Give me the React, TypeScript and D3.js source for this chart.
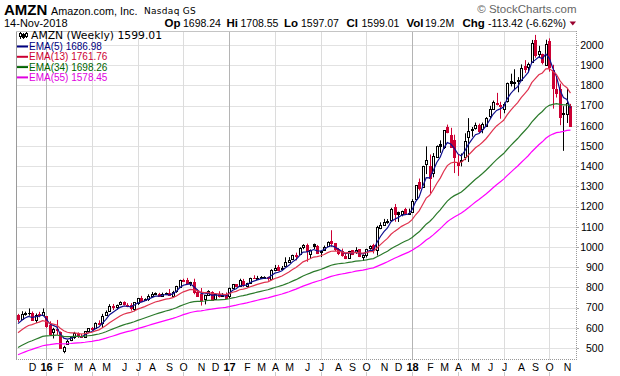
import React from 'react';
import * as d3 from 'd3';

// ---------- DATA (weekly AMZN, first bar = week of 2015-11-09) ----------
const FIRST_WEEK = '2015-11-09';

const opens = [
  663, 645, 671, 675, 673, 641, 668, 665,
  656, 612, 577, 594, 578, 486, 519, 540, 554, 573, 561, 556, 584, 597, 599, 624, 624,
  664, 683, 710, 704, 717, 729, 712, 712, 692, 723, 748, 737, 742, 759, 768, 769, 757, 769,
  773, 755, 780, 800, 836, 835, 825, 826, 775, 766, 745, 762, 778, 743, 766, 758, 764,
  757, 798, 815, 807, 833, 809, 822, 848, 842, 848, 851, 851, 843, 888, 899, 889, 908,
  927, 939, 959, 964, 998, 1012, 967, 1017, 1007, 973, 986, 1004, 1030, 1019, 990, 978, 957, 946,
  984, 974, 990, 951, 960, 993, 1009, 986, 1096, 1110, 1123, 1135, 1197, 1173, 1164, 1187, 1168,
  1172, 1236, 1323, 1297, 1409, 1402, 1364, 1446, 1509, 1494, 1592, 1554, 1530,
  1417, 1425, 1445, 1546, 1582, 1589, 1604, 1585, 1600, 1648, 1681, 1706, 1703,
  1682, 1724, 1821, 1812, 1827, 1825, 1898, 1890, 1915, 2026, 1957, 1954, 1903,
  2022, 1874, 1783, 1784, 1660, 1657, 1698.24,
];

const highs = [
  669, 682, 680, 696, 681, 671, 679, 696,
  658, 632, 600, 639, 582, 511, 540, 559, 580, 577, 570, 583, 599, 604, 627, 637, 669,
  686, 717, 718, 715, 731, 731, 722, 722, 726, 748, 758, 746, 766, 777, 775, 773, 774, 775,
  792, 783, 808, 838, 843, 847, 828, 843, 790, 797, 761, 786, 781, 772, 781, 772, 775,
  799, 817, 816, 843, 842, 823, 848, 860, 857, 856, 855, 853, 890, 911, 911, 906, 949,
  950, 962, 972, 999, 1014, 1017, 988, 1017, 1010, 979, 1007, 1028, 1083, 1019, 995, 992, 969, 981,
  985, 999, 990, 963, 991, 1008, 1016, 1105, 1122, 1139, 1138, 1194, 1213, 1175, 1180, 1194, 1190,
  1237, 1305, 1339, 1402, 1498, 1458, 1465, 1503, 1528, 1578, 1606, 1590, 1556,
  1460, 1463, 1563, 1638, 1594, 1616, 1611, 1616, 1643, 1699, 1725, 1763, 1719,
  1716, 1814, 1858, 1880, 1841, 1904, 1925, 1913, 2025, 2050, 1996, 1957, 2026,
  2033, 1902, 1845, 1809, 1697, 1784, 1708.55,
];

const lows = [
  628, 640, 660, 660, 640, 624, 652, 663,
  600, 565, 547, 565, 499, 474, 515, 534, 545, 550, 550, 553, 577, 585, 593, 616, 599,
  660, 680, 688, 690, 712, 710, 702, 685, 682, 713, 734, 734, 733, 754, 764, 755, 754, 764,
  760, 752, 773, 799, 829, 818, 806, 766, 754, 710, 716, 761, 735, 740, 750, 755, 748,
  747, 796, 803, 806, 803, 800, 819, 842, 840, 842, 847, 833, 838, 880, 880, 887, 903,
  926, 935, 934, 961, 989, 927, 941, 990, 965, 950, 981, 1002, 1001, 980, 960, 952, 940, 941,
  960, 966, 950, 931, 948, 987, 968, 958, 1088, 1108, 1115, 1132, 1125, 1124, 1152, 1160, 1164,
  1170, 1229, 1280, 1293, 1361, 1265, 1345, 1446, 1466, 1485, 1563, 1495, 1366,
  1352, 1399, 1430, 1421, 1546, 1581, 1565, 1563, 1596, 1636, 1679, 1701, 1635,
  1662, 1715, 1795, 1776, 1766, 1821, 1862, 1866, 1915, 1937, 1937, 1904, 1902,
  1868, 1685, 1740, 1603, 1476, 1614, 1597.07,
];

const closes = [
  642, 668, 673, 673, 640, 664, 663, 676,
  607, 570, 596, 587, 502, 507, 535, 555, 575, 558, 552, 583, 598, 594, 625, 620, 660,
  680, 710, 703, 712, 726, 718, 706, 699, 726, 746, 735, 745, 758, 766, 772, 757, 769, 772,
  760, 778, 805, 837, 834, 822, 822, 776, 755, 739, 760, 780, 740, 768, 758, 760, 750,
  796, 817, 808, 836, 810, 821, 847, 845, 849, 852, 852, 845, 886, 894, 884, 898, 925,
  934, 961, 960, 996, 1011, 978, 987, 1003, 968, 979, 1002, 1026, 1020, 988, 968, 958, 945, 978,
  966, 987, 955, 961, 990, 1003, 983, 1101, 1111, 1125, 1130, 1186, 1162, 1162, 1179, 1168, 1169,
  1229, 1305, 1294, 1402, 1430, 1340, 1449, 1500, 1500, 1578, 1571, 1495, 1447,
  1405, 1431, 1527, 1572, 1581, 1603, 1574, 1610, 1641, 1684, 1716, 1715, 1699,
  1710, 1813, 1813, 1817, 1823, 1886, 1882, 1905, 2012, 1952, 1970, 1915, 2003,
  1890, 1788, 1764, 1642, 1665, 1712, 1599.01,
];

// EMA overlays: period, value before the first bar, legend text
const emaPeriods = [5, 13, 34, 55];
const emaStart = [610, 565, 494, 460];
const emaLegend = ['EMA(5) 1686.98', 'EMA(13) 1761.76', 'EMA(34) 1698.26', 'EMA(55) 1578.45'];
const emaLineColors = ['#10108f', '#e0334f', '#2b7a2b', '#f0f'];
const emaTextColors = ['#000080', '#cc0033', '#006400', '#e000e0'];

const yTicks = [500, 600, 700, 800, 900, 1000, 1100, 1200, 1300, 1400, 1500, 1600, 1700, 1800, 1900, 2000];
const monthLetters = ['J', 'F', 'M', 'A', 'M', 'J', 'J', 'A', 'S', 'O', 'N', 'D'];

const quoteParts = [
  { k: 'Op', v: '1698.24', kx: 164.5, vx: 183 },
  { k: 'Hi', v: '1708.55', kx: 226.5, vx: 240.5 },
  { k: 'Lo', v: '1597.07', kx: 284, vx: 301 },
  { k: 'Cl', v: '1599.01', kx: 346.5, vx: 361.5 },
  { k: 'Vol', v: '19.2M', kx: 406.5, vx: 425 },
  { k: 'Chg', v: '-113.42 (-6.62%)', kx: 462.5, vx: 488 },
];

// ---------- LAYOUT ----------
const W = 620, H = 376;
const L = 16, R = 577, T = 31, B = 360;
const RED = '#cc0033';
const SANS = 'Liberation Sans, Arial, Helvetica, sans-serif';
const VERD = 'DejaVu Sans, Verdana, sans-serif';

function ema(vals: number[], period: number, prior: number) {
  const k = 2 / (period + 1);
  let e = prior;
  return vals.map((v) => (e = e + k * (v - e)));
}

export default function App() {
  const start = new Date(FIRST_WEEK + 'T00:00:00Z');
  const dates = closes.map((_, i) => d3.utcDay.offset(start, 7 * i));

  const x = d3.scaleUtc()
    .domain([new Date(Date.UTC(2015, 10, 5)), new Date(Date.UTC(2018, 10, 25))])
    .range([L, R]);
  const y = d3.scaleLinear().domain([500, 2000]).range([348, 45]);

  const firstOfMonth: { i: number; m: number; yr: number }[] = [];
  for (let i = 1; i < dates.length; i++) {
    if (dates[i].getUTCMonth() !== dates[i - 1].getUTCMonth()) {
      firstOfMonth.push({ i, m: dates[i].getUTCMonth(), yr: dates[i].getUTCFullYear() });
    }
  }
  const px = (i: number) => Math.round(x(dates[i])) + 0.5;

  const emas = emaPeriods.map((p, k) => ema(closes, p, emaStart[k]));
  const line = d3.line<number>().x((_, i) => x(dates[i])).y((v) => y(v));

  return (
    <svg width={W} height={H} style={{ position: 'absolute', left: 0, top: 0, background: '#fff' }}
      fontFamily={SANS}>
      <rect x={0} y={0} width={W} height={H} fill="#fff" />

      {/* horizontal grid */}
      {yTicks.map((t) => (
        <line key={'h' + t} x1={L} x2={R} y1={Math.round(y(t)) + 0.5} y2={Math.round(y(t)) + 0.5}
          stroke="#e2e2e2" strokeWidth={1} />
      ))}
      {/* vertical quarter grid */}
      {firstOfMonth.filter((f) => f.m % 3 === 0).map((f) => (
        <g key={'v' + f.i}>
          <line x1={px(f.i)} x2={px(f.i)} y1={T} y2={B} stroke={f.m === 0 ? '#b4b4b4' : '#dcdcdc'} />
          <line x1={px(f.i)} x2={px(f.i)} y1={372} y2={376} stroke="#c8c8c8" />
        </g>
      ))}

      {/* frame */}
      <line x1={L + 0.5} x2={L + 0.5} y1={T} y2={B} stroke="#9a9a9a" />
      <line x1={L} x2={R} y1={T + 0.5} y2={T + 0.5} stroke="#c4c4c4" />
      <line x1={R - 0.5} x2={R - 0.5} y1={T} y2={B} stroke="#999" strokeDasharray="1,1" />
      <line x1={L} x2={R} y1={B - 0.5} y2={B - 0.5} stroke="#999" strokeDasharray="1,1" />
      {yTicks.map((t) => (
        <line key={'rt' + t} x1={R} x2={R + 2} y1={Math.round(y(t)) + 0.5} y2={Math.round(y(t)) + 0.5} stroke="#aaa" />
      ))}

      {/* candles */}
      {closes.map((c, i) => {
        const o = opens[i], h = highs[i], l = lows[i];
        const prev = i > 0 ? closes[i - 1] : o;
        const col = c >= prev ? '#000' : RED;
        const cx = px(i);
        const yo = y(o), yc = y(c);
        const top = Math.round(Math.min(yo, yc)) + 0.5;
        const bot = Math.round(Math.max(yo, yc)) + 0.5;
        const yh = y(h), yl = y(l);
        if (c > o) {
          return (
            <g key={'c' + i} stroke={col}>
              <line x1={cx} x2={cx} y1={yh} y2={top} />
              <line x1={cx} x2={cx} y1={bot} y2={yl} />
              <rect x={cx - 1} y={top} width={2} height={Math.max(bot - top, 1)} fill="#fff" strokeWidth={1} />
            </g>
          );
        }
        return (
          <g key={'c' + i}>
            <line x1={cx} x2={cx} y1={yh} y2={yl} stroke={col} />
            <rect x={cx - 1.5} y={top - 0.5} width={3} height={Math.max(bot - top + 1, 1)} fill={col} />
          </g>
        );
      })}

      {/* EMA overlays */}
      {emas.map((e, k) => (
        <path key={'e' + k} d={line(e) || ''} fill="none" stroke={emaLineColors[k]} strokeWidth={1.2} />
      ))}

      {/* legend */}
      <g stroke="#000" strokeWidth={1}>
        <line x1={20.5} x2={20.5} y1={32} y2={39} />
        <rect x={19.5} y={33.5} width={2} height={3} fill="#fff" />
        <line x1={23.5} x2={23.5} y1={33} y2={39} />
        <rect x={22.5} y={34.5} width={2} height={3} fill="#000" />
        <line x1={26.5} x2={26.5} y1={32} y2={38} />
        <rect x={25.5} y={33.5} width={2} height={3} fill="#fff" />
      </g>
      <text x={31} y={39} fontFamily={VERD} fontSize={10.8} fill="#000">AMZN (Weekly) 1599.01</text>
      {emaLegend.map((s, k) => {
        const by = 50 + 10.3 * k;
        return (
          <g key={'lg' + k}>
            <line x1={17} x2={28} y1={by - 3.5} y2={by - 3.5} stroke={emaTextColors[k]} strokeWidth={2} />
            <text x={29} y={by} fontSize={10} fill={emaTextColors[k]}>{s}</text>
          </g>
        );
      })}

      {/* y axis labels */}
      {yTicks.map((t) => (
        <text key={'yl' + t} x={603.5} y={y(t) + 3.8} textAnchor="end" fontSize={10.5} fill="#000">{t}</text>
      ))}

      {/* x axis labels */}
      {firstOfMonth.map((f) => (
        <text key={'xl' + f.i} x={px(f.i)} y={371} textAnchor="middle"
          fontSize={f.m === 0 ? 11 : 10.5} fontWeight={f.m === 0 ? 'bold' : 'normal'} fill="#000">
          {f.m === 0 ? String(f.yr).slice(2) : monthLetters[f.m]}
        </text>
      ))}

      {/* header */}
      <text x={4} y={15} fontSize={15} fontWeight="bold" fill="#000">AMZN</text>
      <text x={51} y={15} fontSize={10.8} fill="#000">Amazon.com, Inc.</text>
      <text x={144} y={14} fontFamily={VERD} fontSize={9} fill="#000" letterSpacing={0.3}>Nasdaq GS</text>
      <text x={4} y={27} fontSize={11} fill="#000">14-Nov-2018</text>
      {quoteParts.map((q) => (
        <g key={q.k}>
          <text x={q.kx} y={27} fontSize={11.5} fontWeight="bold" fill="#000">{q.k}</text>
          <text x={q.vx} y={27} fontSize={10.5} fill="#000">{q.v}</text>
        </g>
      ))}
      <path d="M569.5,21.5 L576,21.5 L572.75,25.5 Z" fill="#99002e" />
      <text x={576.5} y={12.5} textAnchor="end" fontSize={11.5} fill="#666">© StockCharts.com</text>
    </svg>
  );
}
